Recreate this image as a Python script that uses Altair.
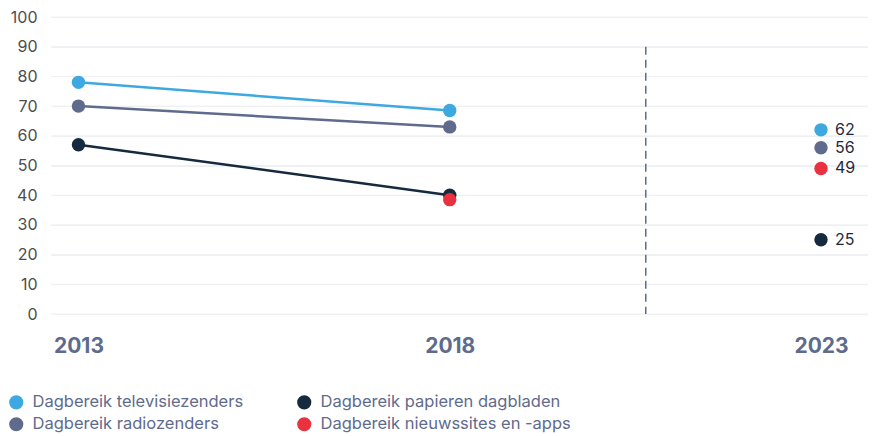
import altair as alt
import pandas as pd

series = ["Dagbereik televisiezenders", "Dagbereik radiozenders",
          "Dagbereik papieren dagbladen", "Dagbereik nieuwssites en -apps"]
colors = ["#3ea8e0", "#5f6b8d", "#15293f", "#e8323f"]
years = [2013, 2018, 2023]
tv = [78, 68.5, 62]
radio = [70, 63, 56]
papier = [57, 40, 25]
nieuws = [None, 38.5, 49]
y_ticks = [0, 10, 20, 30, 40, 50, 60, 70, 80, 90, 100]
divider_year = 2020.64
divider_top = 90

rows = []
for i, (name, vals) in enumerate(zip(series, [tv, radio, papier, nieuws])):
    for y, v in zip(years, vals):
        if v is not None:
            rows.append({"serie": name, "jaar": y, "waarde": v, "order": i})
df = pd.DataFrame(rows)

FONT = "Inter"
xscale = alt.Scale(domain=[2012.63, 2023.633], nice=False, zero=False)
yscale = alt.Scale(domain=[0, 100], nice=False)
cscale = alt.Scale(domain=series, range=colors)

xaxis = alt.Axis(values=years, format="d", title=None, grid=False, ticks=False,
                 domain=False, labelFont=FONT, labelFontSize=21, labelFontWeight="bold",
                 labelColor="#5f6b8d", labelPadding=21)
yaxis = alt.Axis(values=y_ticks, title=None, ticks=False, domain=False,
                 labelOverlap=False, gridColor="#eef0f4", gridWidth=1, labelFont=FONT,
                 labelFontSize=16, labelColor="#4d4d4d", labelPadding=14)
legend = alt.Legend(title=None, orient="none", legendX=-43, legendY=377,
                    columns=2, columnPadding=52, rowPadding=5, labelLimit=400,
                    symbolType="circle", symbolSize=200, symbolStrokeWidth=0,
                    labelFont=FONT, labelFontSize=16.5, labelColor="#5f6b8d",
                    labelOffset=8)

X = alt.X("jaar:Q", scale=xscale, axis=xaxis)
Y = alt.Y("waarde:Q", scale=yscale, axis=yaxis)
C = alt.Color("serie:N", scale=cscale, legend=legend)

base = alt.Chart(df)

grid = alt.Chart(pd.DataFrame({"t": y_ticks})).mark_rule(color="#eef0f4", strokeWidth=1).encode(
    y=alt.Y("t:Q", scale=yscale, axis=yaxis),
)

lines = base.transform_filter("datum.jaar <= 2018").mark_line(strokeWidth=2.5).encode(
    x=X, y=Y, color=C, detail="serie:N",
)

points = base.mark_circle(size=180, opacity=1).encode(
    x=X, y=Y, color=C, order=alt.Order("order:Q"),
)

labels = base.transform_filter("datum.jaar == 2023").mark_text(
    align="left", baseline="middle", dx=14, font=FONT, fontSize=16, color="#1e2a3c"
).encode(
    x=X, y=Y, text=alt.Text("waarde:Q", format="d"),
)

divider = alt.Chart(pd.DataFrame({"x": [divider_year], "top": [divider_top], "bottom": [0]})).mark_rule(
    color="#5f6b8d", strokeWidth=1.5, strokeDash=[8, 5]
).encode(
    x=alt.X("x:Q", scale=xscale, axis=xaxis),
    y=alt.Y("top:Q", scale=yscale, axis=yaxis),
    y2="bottom:Q",
)

chart = alt.layer(grid, lines, divider, points, labels).properties(
    width=817, height=297,
    autosize=alt.AutoSizeParams(type="none"),
    padding={"left": 43, "top": 9, "right": 0, "bottom": 122},
).configure_view(stroke=None)

chart.save("out.html", embed_options={"renderer": "svg", "actions": False})
